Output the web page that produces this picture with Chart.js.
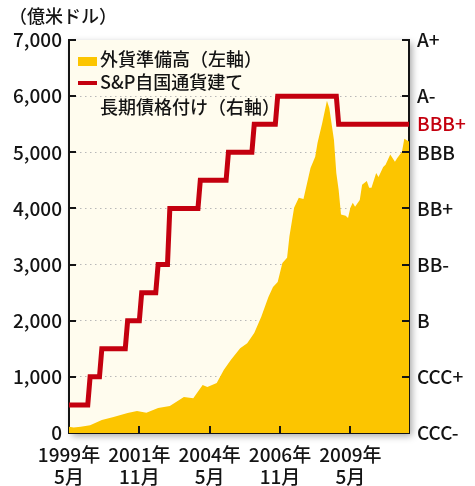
<!DOCTYPE html>
<html>
<head>
<meta charset="utf-8">
<script src="https://cdn.jsdelivr.net/npm/chart.js@4"></script>
<style>
  html, body { margin: 0; padding: 0; background: #fff; }
</style>
</head>
<body>
<canvas id="chart" width="475" height="486"></canvas>
<script>
// months counted from 1999/5 (= 0)
const xTickValues = [0, 30, 60, 90, 120];
const xTickLabels = [['1999年', '5月'], ['2001年', '11月'], ['2004年', '5月'], ['2006年', '11月'], ['2009年', '5月']];

// foreign reserves, 100 million USD
const reserveMonths = [0, 2, 5, 9, 14, 19, 25, 29, 33, 38, 43, 49, 53, 57, 59, 63, 66, 69, 73, 76, 79, 82, 85, 87, 89, 91, 93, 94, 96, 98, 100, 103, 105, 106, 108, 110, 111, 113, 114, 115, 116, 118, 119, 120, 121, 122, 124, 125, 127, 128, 129, 131, 132, 134, 135, 137, 139, 140, 142, 143, 145];
const reserveValues = [110, 100, 110, 140, 230, 285, 355, 390, 360, 445, 480, 640, 620, 855, 820, 890, 1120, 1300, 1510, 1600, 1780, 2070, 2420, 2600, 2690, 3030, 3120, 3500, 4010, 4190, 4170, 4720, 4920, 5170, 5520, 5920, 5790, 5220, 4630, 4330, 3890, 3870, 3830, 4010, 4100, 4030, 4150, 4420, 4490, 4370, 4370, 4630, 4560, 4740, 4780, 4960, 4830, 4900, 5010, 5240, 5190];

// S&P rating, on the right axis scale
const ratingMonths = [0, 8, 9, 13, 14, 24, 25, 30, 31, 37, 38, 42, 43, 55, 56, 67, 68, 78, 79, 88, 89, 114, 115, 145];
const ratingLevels = [500, 500, 1000, 1000, 1500, 1500, 2000, 2000, 2500, 2500, 3000, 3000, 4000, 4000, 4500, 4500, 5000, 5000, 5500, 5500, 6000, 6000, 5500, 5500];

const leftTickValues = [0, 1000, 2000, 3000, 4000, 5000, 6000, 7000];
const ratingTickValues = [0, 1000, 2000, 3000, 4000, 5000, 5500, 6000, 7000];
const ratingLabels = ['CCC-', 'CCC+', 'B', 'BB-', 'BB+', 'BBB', 'BBB+', 'A-', 'A+'];
const currentRating = 'BBB+';

const YELLOW = '#fcc500';
const RED = '#c4000f';
const CREAM = '#fffcee';
const INK = '#141414';
const FONT = '"Noto Sans CJK JP", "Noto Sans", sans-serif';
const WEIGHT = '500';

// cream plot background with a soft drop shadow
const backdrop = {
  id: 'backdrop',
  beforeDraw(chart) {
    const { ctx, chartArea: a } = chart;
    ctx.save();
    ctx.shadowColor = 'rgba(0,0,0,0.35)';
    ctx.shadowBlur = 7;
    ctx.shadowOffsetX = 3;
    ctx.shadowOffsetY = 3;
    ctx.fillStyle = CREAM;
    ctx.fillRect(a.left, a.top, a.width, a.height);
    ctx.restore();
  }
};

// tick marks pointing into the plot, title and legend
const decorations = {
  id: 'decorations',
  afterDraw(chart) {
    const { ctx, chartArea: a, scales } = chart;
    ctx.save();
    ctx.strokeStyle = INK;
    ctx.lineWidth = 2;
    ctx.beginPath();
    leftTickValues.forEach(v => {
      if (v === 0) return;
      const py = Math.round(scales.y.getPixelForValue(v));
      ctx.moveTo(a.left, py); ctx.lineTo(a.left + 7, py);
      ctx.moveTo(a.right - 7, py); ctx.lineTo(a.right, py);
    });
    xTickValues.forEach(v => {
      if (v === 0) return;
      const px = Math.round(scales.x.getPixelForValue(v));
      ctx.moveTo(px, a.bottom); ctx.lineTo(px, a.bottom - 7);
    });
    ctx.stroke();

    ctx.fillStyle = INK;
    ctx.textBaseline = 'middle';
    ctx.textAlign = 'left';
    ctx.font = WEIGHT + ' 18px ' + FONT;
    ctx.fillText('（億米ドル）', 9, 16);

    // legend
    ctx.fillStyle = YELLOW;
    ctx.fillRect(78, 57, 19, 9);
    ctx.strokeStyle = RED;
    ctx.lineWidth = 4;
    ctx.beginPath();
    ctx.moveTo(78, 83); ctx.lineTo(97, 83);
    ctx.stroke();
    ctx.fillStyle = INK;
    ctx.fillText('外貨準備高（左軸）', 100, 59);
    ctx.fillText('S&P自国通貨建て', 100, 82);
    ctx.fillText('長期債格付け（右軸）', 100, 107);
    ctx.restore();
  }
};

function draw() {
  const ctx = document.getElementById('chart').getContext('2d');
  new Chart(ctx, {
    type: 'line',
    data: {
      datasets: [
        {
          label: 'S&P自国通貨建て長期債格付け（右軸）',
          data: ratingMonths.map((m, i) => ({ x: m, y: ratingLevels[i] })),
          yAxisID: 'y2',
          borderColor: RED,
          borderWidth: 5,
          borderJoinStyle: 'miter',
          pointRadius: 0,
          tension: 0,
          fill: false
        },
        {
          label: '外貨準備高（左軸）',
          data: reserveMonths.map((m, i) => ({ x: m, y: reserveValues[i] })),
          yAxisID: 'y',
          borderWidth: 0,
          backgroundColor: YELLOW,
          pointRadius: 0,
          tension: 0,
          fill: 'origin'
        }
      ]
    },
    options: {
      responsive: false,
      devicePixelRatio: 1,
      animation: false,
      layout: { padding: { top: 40, left: 0, right: 0, bottom: 0 } },
      plugins: {
        legend: { display: false },
        tooltip: { enabled: false }
      },
      scales: {
        x: {
          type: 'linear',
          min: 0,
          max: 145,
          afterBuildTicks: scale => { scale.ticks = xTickValues.map(v => ({ value: v })); },
          afterFit: scale => { scale.height = 53; },
          grid: { display: false },
          border: { display: true, color: INK, width: 2 },
          ticks: {
            autoSkip: false,
            maxRotation: 0,
            padding: 2,
            color: INK,
            font: { family: FONT, size: 19, weight: WEIGHT, lineHeight: 1.2 },
            callback: (v, i) => xTickLabels[i]
          }
        },
        y: {
          position: 'left',
          min: 0,
          max: 7000,
          afterBuildTicks: scale => { scale.ticks = leftTickValues.map(v => ({ value: v })); },
          afterFit: scale => { scale.width = 69; },
          grid: {
            drawTicks: false,
            lineWidth: 1,
            color: c => (c.tick && (c.tick.value === 0 || c.tick.value === 7000)) ? 'rgba(0,0,0,0)' : '#b8b8b8'
          },
          border: { display: true, color: INK, width: 2, dash: [1.5, 3.5] },
          ticks: {
            padding: 7,
            color: INK,
            font: { family: FONT, size: 19, weight: WEIGHT },
            callback: v => v.toLocaleString('en-US')
          }
        },
        y2: {
          position: 'right',
          min: 0,
          max: 7000,
          afterBuildTicks: scale => { scale.ticks = ratingTickValues.map(v => ({ value: v })); },
          afterFit: scale => { scale.width = 66; },
          grid: { display: false, drawTicks: false },
          border: { display: true, color: INK, width: 2 },
          ticks: {
            padding: 8,
            font: { family: FONT, size: 19, weight: WEIGHT },
            color: c => ratingLabels[c.index] === currentRating ? RED : INK,
            callback: (v, i) => ratingLabels[i]
          }
        }
      }
    },
    plugins: [backdrop, decorations]
  });
}

if (document.fonts && document.fonts.load) {
  document.fonts.load(WEIGHT + ' 19px "Noto Sans CJK JP"', '億米ドル0').then(draw, draw);
} else {
  draw();
}
</script>
</body>
</html>
